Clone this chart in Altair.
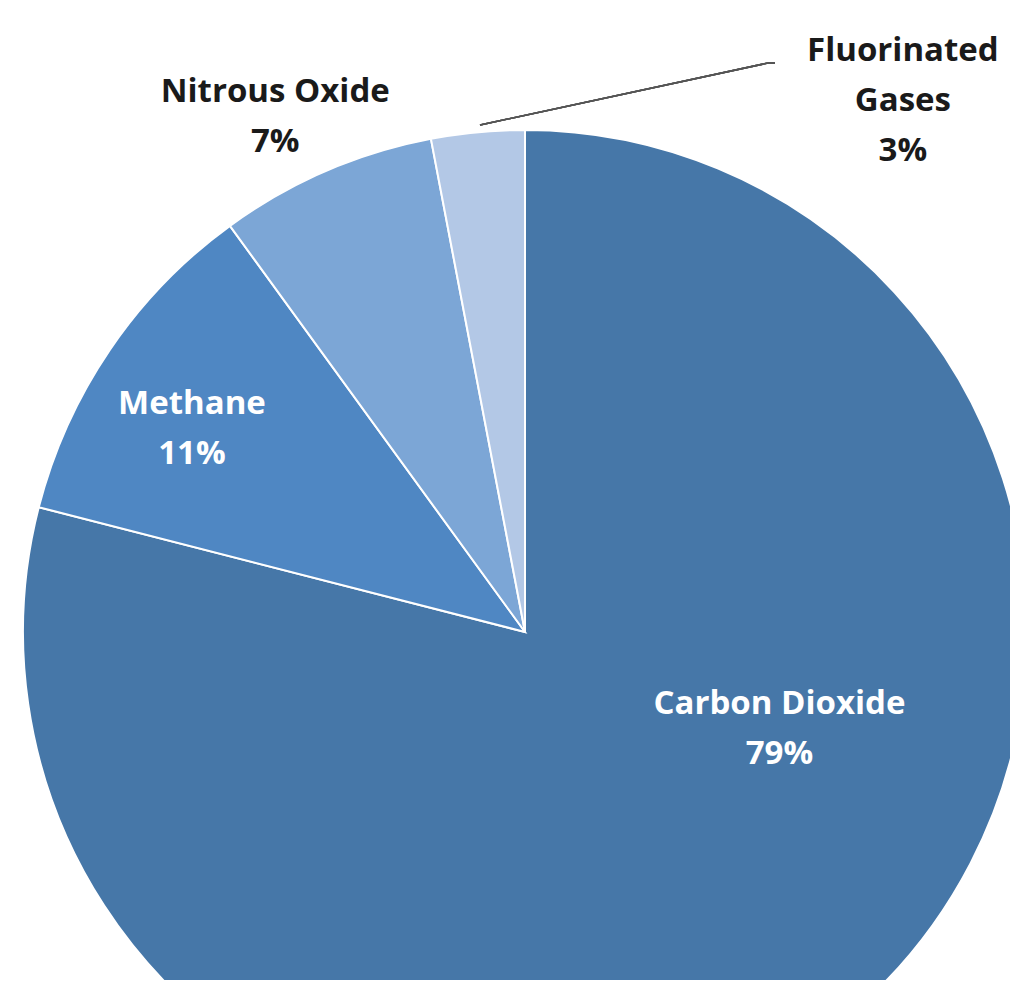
import altair as alt
import pandas as pd

gases = ["Carbon Dioxide", "Methane", "Nitrous Oxide", "Fluorinated Gases"]
label_names = ["Carbon Dioxide", "Methane", "Nitrous Oxide", "Fluorinated\nGases"]
shares = [79, 11, 7, 3]
colors = ["#4677a8", "#4f87c3", "#7ca6d6", "#b3c8e6"]

df = pd.DataFrame({
    "gas": gases,
    "name": label_names,
    "share": shares,
    "idx": list(range(len(gases))),
})

W, H = 1002, 972
CX, CY = 517, 624
R = 502

base = alt.Chart(df).transform_calculate(
    label="datum.name + '\\n' + datum.share + '%'"
).encode(
    theta=alt.Theta("share:Q", stack=True),
    order=alt.Order("idx:Q"),
    x=alt.value(CX),
    y=alt.value(CY),
)

pie = base.mark_arc(outerRadius=R, stroke="white", strokeWidth=2).encode(
    color=alt.Color("gas:N", scale=alt.Scale(domain=gases, range=colors), legend=None),
)

label_specs = [
    ("Carbon Dioxide", 270, 89, -141, "white"),
    ("Methane", 393, -8, -7, "white"),
    ("Nitrous Oxide", 576, -21, -11, "#1a1a1a"),
    ("Fluorinated Gases", 660, 440, 76, "#1a1a1a"),
]

layers = [pie]
for g, r, dx, dy, col in label_specs:
    layers.append(
        base.mark_text(
            radius=r, dx=dx, dy=dy, lineBreak="\n", lineHeight=50,
            font="Open Sans", fontWeight="bold", fontSize=33, color=col,
            align="center", baseline="middle",
        ).encode(
            text="label:N",
            opacity=alt.condition(alt.datum.gas == g, alt.value(1), alt.value(0)),
        )
    )

leader = alt.Chart(df).mark_rule(color="#555555", strokeWidth=1.5).encode(
    x=alt.value(472), y=alt.value(117), x2=alt.value(760), y2=alt.value(55)
)
leader_tail = alt.Chart(df).mark_rule(color="#555555", strokeWidth=1.5).encode(
    x=alt.value(760), y=alt.value(55), x2=alt.value(767), y2=alt.value(55)
)
layers += [leader, leader_tail]

chart = alt.layer(*layers).properties(
    width=W, height=H,
    autosize=alt.AutoSizeParams(type="none"),
    padding=0,
).configure_view(strokeWidth=0)

chart.save("out.html", embed_options={"renderer": "svg", "actions": False})
